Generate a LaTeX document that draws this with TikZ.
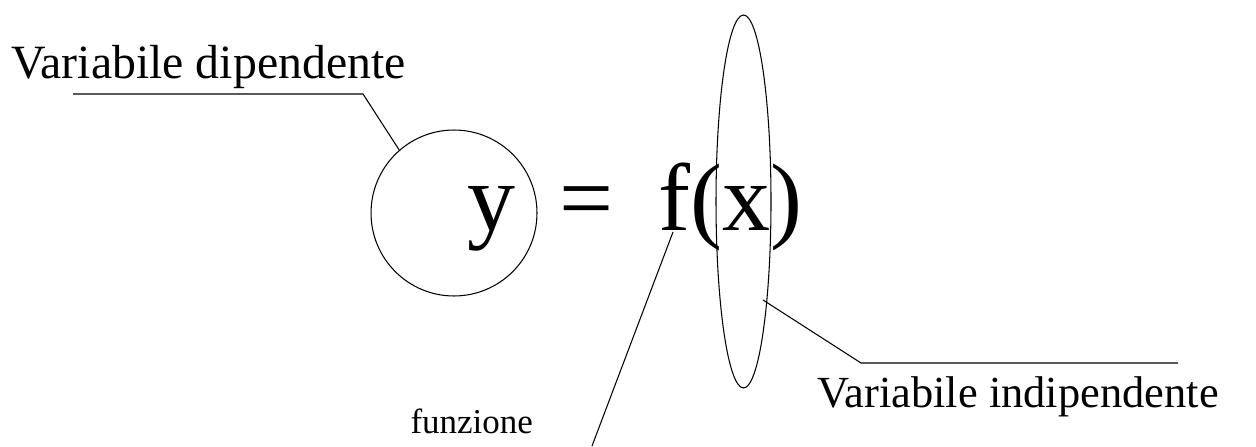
\documentclass[tikz,border=0pt]{standalone}
\usepackage{fontspec}
\setmainfont{Liberation Serif}
\usepackage{tikz}
\usetikzlibrary{shapes.geometric}

\begin{document}
\begin{tikzpicture}[x=0.02cm, y=-0.02cm, line width=0.6pt,
  label/.style={anchor=base west, inner sep=0pt, font=\fontsize{27.2}{32}\selectfont},
  formula/.style={anchor=base west, inner sep=0pt, font=\fontsize{54.6}{64}\selectfont},
  small/.style={anchor=base west, inner sep=0pt, font=\fontsize{19.9}{24}\selectfont}]
\useasboundingbox (0,0) rectangle (1256,446);
% formula
\node[formula] (y) at (467,230) {y};
\node[formula] (eq) at (559,230) {=};
\node[formula] (fx) at (658,230) {f(x)};
% circle round y, ellipse round x
\node[draw, circle, inner sep=0pt, minimum size=3.32cm] (ycirc) at (454,213) {};
\node[draw, ellipse, inner sep=0pt, minimum width=1.1cm, minimum height=7.46cm] (xell) at (743.5,201.5) {};
% labels
\node[label] (dip) at (11,79) {Variabile dipendente};
\node[label, font=\fontsize{25.3}{30}\selectfont] (indip) at (817,407) {Variabile indipendente};
\node[small] (fun) at (410,433) {funzione};
% leader lines
\coordinate (dipA) at (73,94);
\coordinate (dipB) at (363,94);
\draw (dipA) -- (dipB) -- (ycirc.131);
\coordinate (xtip) at (763,300);
\coordinate (indipA) at (861,363);
\coordinate (indipB) at (1178,363);
\draw (xtip) -- (indipA) -- (indipB);
\coordinate (ftip) at (673,232);
\coordinate (funend) at (592,446);
\draw (ftip) -- (funend);
\end{tikzpicture}
\end{document}
